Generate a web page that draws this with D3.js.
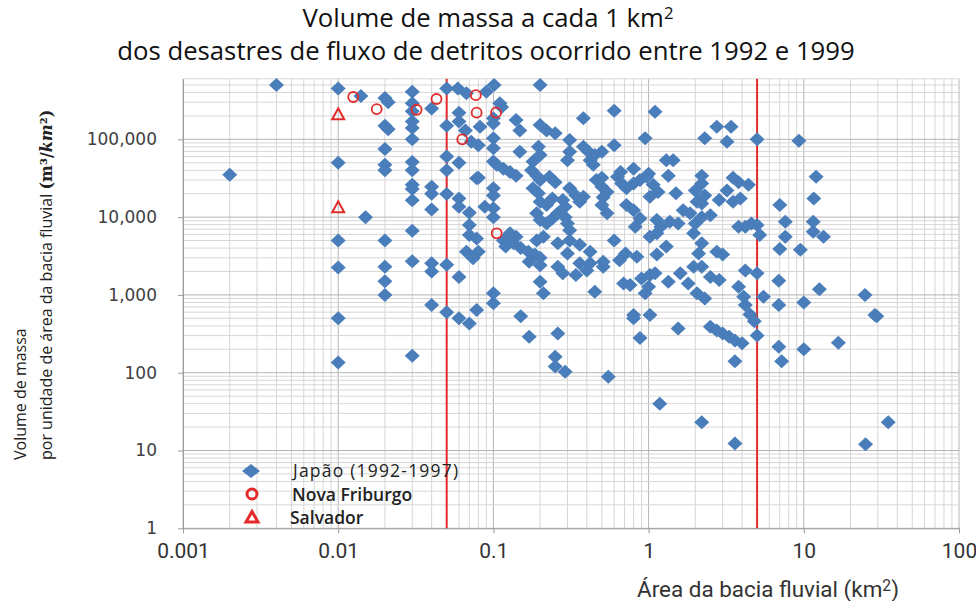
<!DOCTYPE html>
<html lang="pt">
<head>
<meta charset="utf-8">
<script src="https://cdn.jsdelivr.net/npm/d3@7"></script>
<style>
  body { margin: 0; background: #fff; }
  svg { display: block; }
</style>
</head>
<body>
<svg id="chart" width="976" height="601"></svg>
<script>
// --- data ---
const japaoArea = [0.004,0.002,0.01,0.01,0.01,0.01,0.01,0.01,0.014,0.015,0.02,0.021,0.02,0.021,0.02,0.02,0.02,0.02,0.02,0.02,0.02,
  0.03,0.03,0.03,0.03,0.03,0.03,0.03,0.03,0.03,0.03,0.03,0.03,0.03,0.03,0.04,0.04,0.04,0.04,0.04,0.04,0.04,
  0.05,0.05,0.05,0.05,0.05,0.05,0.05,0.059,0.067,0.06,0.06,0.066,0.072,0.06,0.078,0.06,0.06,0.07,0.07,0.07,0.067,0.074,0.06,0.06,0.07,0.078,
  0.101,0.09,0.2,0.11,0.14,0.148,0.082,0.1,0.08,0.1,0.1,0.148,0.2,0.22,0.25,0.195,0.2,0.38,0.6,1.1,0.31,0.31,0.3,0.38,0.41,0.45,0.5,0.6,0.95,
  0.42,0.44,0.8,1.3,1.44,2.3,2.75,3.4,3.2,5.0,0.08,0.1,0.105,0.116,0.128,0.14,0.18,0.176,0.19,0.2,0.23,0.25,0.18,0.195,0.2,0.22,0.24,
  0.19,0.2,0.22,0.24,0.26,0.29,0.31,0.31,0.34,0.38,0.36,0.46,0.5,0.5,0.54,0.63,0.67,0.72,0.8,0.88,0.97,1.07,1.15,1.02,1.34,1.5,
  2.2,2.2,2.0,2.3,2.05,3.5,3.8,4.4,3.2,3.5,3.9,0.29,0.5,0.54,0.72,0.8,0.88,0.82,1.13,1.2,1.37,1.55,1.13,1.67,1.85,2.2,2.0,2.5,1.95,2.2,
  2.75,3.0,3.8,4.2,5.0,5.2,4.6,0.21,0.26,0.31,0.36,0.3,0.42,0.36,0.51,0.128,0.14,0.135,0.15,0.168,0.185,0.2,0.6,0.71,0.84,1.02,1.3,1.13,
  0.088,0.1,0.1,0.1,0.1,0.116,0.078,0.08,
  0.17,0.2,0.26,0.28,0.34,0.4,0.42,0.51,0.2,0.21,0.45,0.69,0.76,0.9,1.02,1.1,1.0,0.95,1.34,1.6,1.8,1.95,2.2,2.05,2.3,2.5,2.85,3.8,4.2,5.0,
  4.1,4.2,5.5,4.5,4.8,0.8,0.8,1.02,0.88,1.55,2.5,2.75,3.0,3.3,3.6,4.0,3.6,5.0,0.1,0.1,0.15,0.17,0.26,0.25,0.25,0.29,0.55,1.18,2.2,3.6,
  6.9,6.9,10,12.6,24.8,28.7,29.5,6.9,7.2,10,16.7,35,25,9.3,12,11.6,7,7.6,11.5,11.5,13.4,7.6,7,9.5,
  0.113,0.1,0.66,0.51,0.65,2.85,0.12,0.3,0.28,1.0,2.2,2.1,0.19];
const japaoVol = [500000,35000,450000,50000,5000,2250,500,135,360000,10000,340000,300000,150000,135000,75000,47000,40000,5000,2300,1500,1000,
  410000,290000,230000,170000,140000,100000,51000,40000,26000,23000,16500,6700,2700,165,250000,24500,20000,12500,2550,2000,740,
  450000,150000,60000,40000,19800,2450,600,450000,390000,220000,170000,130000,93000,50000,31500,17400,13600,11400,7900,5900,3600,2950,1700,500,430,640,
  500000,410000,500000,290000,177000,130000,145000,160000,84000,103000,77000,69000,153000,130000,120000,80000,63000,186000,233000,226000,98000,69000,54000,80000,69000,63000,69000,84000,103000,
  54000,47000,42000,54000,54000,103000,145000,145000,93000,100000,32000,52000,47000,42000,38000,34000,52000,40000,34000,30000,33000,28000,23500,20300,15800,14300,17400,
  11200,9200,8300,9600,11200,10000,6800,23500,19000,18300,15800,30000,32000,24600,21000,33000,27000,23500,27000,30000,33000,26000,21000,18300,34000,20300,
  34000,27000,22000,19000,15800,32000,28000,26000,22000,15800,17400,13600,14300,11200,14300,12300,9600,7500,9200,7500,8700,8300,6200,12300,11200,10000,8300,10600,6200,4600,
  3600,3300,7500,7500,7900,5900,8300,5600,4600,5000,4400,3400,3600,2550,2670,6200,5600,4600,4000,3600,3300,3000,5000,3400,3100,5600,4200,3300,
  13600,13000,10000,23500,19000,5000,5300,3600,
  2670,2400,2300,1900,1800,2060,2550,2300,1480,1050,1100,1400,1340,1630,1800,1900,1270,1050,1480,1900,1400,2300,2300,1050,900,1700,1550,1270,2060,1900,
  950,740,950,560,460,550,500,550,280,370,390,350,320,290,260,240,140,300,1050,780,530,290,320,160,120,103,89,40,23,12.3,
  1520,740,800,1180,1000,550,530,215,140,200,243,23,12,96000,33000,17400,14300,8700,8700,6500,5600,5600,3900,3800,
  260000,186000,38000,18000,2800,16600,4200,8300,16600,36000,15000,3400,5000];

const friburgoArea = [0.0125, 0.0177, 0.032, 0.043, 0.077, 0.078, 0.104, 0.063, 0.105];
const friburgoVol = [350000, 245000, 240000, 330000, 370000, 220000, 220000, 100000, 6200];

const salvadorArea = [0.01, 0.01];
const salvadorVol = [210000, 13400];

const limitLines = [0.05, 5];
const xTicks = [0.001, 0.01, 0.1, 1, 10, 100];
const yTicks = [1, 10, 100, 1000, 10000, 100000];
const xTickLabels = ["0.001", "0.01", "0.1", "1", "10", "100"];

const blue = "#4a7ebb", red = "#e32b2b";

const svg = d3.select("#chart");
svg.append("rect").attr("width", 976).attr("height", 601).attr("fill", "#fff");

const x = d3.scaleLog().domain([0.001, 100]).range([183, 959]);
const y = d3.scaleLog().domain([1, 600000]).range([528.3, 78.8]);

function fitText(t, w) {
  const fs = parseFloat(t.style("font-size"));
  const len = t.node().getComputedTextLength();
  t.style("font-size", (fs * w / len) + "px");
}

// grid
const grid = svg.append("g");
const xMajor = new Set(xTicks.map(String));
grid.selectAll(".vx").data(x.ticks()).enter().append("line")
  .attr("x1", d => x(d)).attr("x2", d => x(d))
  .attr("y1", y(600000)).attr("y2", y(1))
  .attr("stroke", d => xMajor.has(String(d)) ? "#b4b4b4" : "#d6d6d6")
  .attr("stroke-width", 1);
const yMajor = new Set(yTicks.map(String));
grid.selectAll(".hy").data(y.ticks().filter(d => d <= 600000)).enter().append("line")
  .attr("x1", x(0.001)).attr("x2", x(100))
  .attr("y1", d => y(d)).attr("y2", d => y(d))
  .attr("stroke", d => yMajor.has(String(d)) ? "#b4b4b4" : "#d6d6d6")
  .attr("stroke-width", 1);

// axes
const xAxis = d3.axisBottom(x).tickValues(xTicks).tickFormat((d, i) => xTickLabels[i]).tickSizeInner(5).tickSizeOuter(0).tickPadding(10);
const gx = svg.append("g").attr("transform", "translate(0," + y(1) + ")").call(xAxis);
gx.select(".domain").attr("stroke", "#9a9a9a");
gx.selectAll(".tick line").attr("stroke", "#9a9a9a");
gx.selectAll("text").attr("fill", "#333").style("font-family", "'Liberation Sans Narrow', 'Roboto', sans-serif").style("font-size", "21px");

const yAxis = d3.axisLeft(y).tickValues(yTicks).tickFormat(d3.format(",")).tickSizeInner(5).tickSizeOuter(0).tickPadding(21);
const gy = svg.append("g").attr("transform", "translate(" + x(0.001) + ",0)").call(yAxis);
gy.select(".domain").attr("stroke", "#9a9a9a");
gy.selectAll(".tick line").attr("stroke", "#9a9a9a");
gy.selectAll("text").attr("fill", "#404040").style("font-family", "'DejaVu Sans', sans-serif").style("font-size", "17px");

// red limit lines
svg.selectAll(".lim").data(limitLines).enter().append("line")
  .attr("x1", d => x(d)).attr("x2", d => x(d))
  .attr("y1", y(600000)).attr("y2", y(1))
  .attr("stroke", red).attr("stroke-width", 2);

// points
const diamond = "M0,-7L7.5,0L0,7L-7.5,0Z";
const triangle = "M0,-6L6,5L-6,5Z";

svg.append("g").selectAll("path").data(japaoArea.map((a, i) => [a, japaoVol[i]])).enter().append("path")
  .attr("d", diamond)
  .attr("transform", d => "translate(" + x(d[0]) + "," + y(d[1]) + ")")
  .attr("fill", blue);

svg.append("g").selectAll("circle").data(friburgoArea.map((a, i) => [a, friburgoVol[i]])).enter().append("circle")
  .attr("cx", d => x(d[0])).attr("cy", d => y(d[1])).attr("r", 5)
  .attr("fill", "none").attr("stroke", red).attr("stroke-width", 1.8);

svg.append("g").selectAll("path").data(salvadorArea.map((a, i) => [a, salvadorVol[i]])).enter().append("path")
  .attr("d", triangle)
  .attr("transform", d => "translate(" + x(d[0]) + "," + y(d[1]) + ")")
  .attr("fill", "none").attr("stroke", red).attr("stroke-width", 2);

// legend
const leg = svg.append("g").style("font-family", "'Open Sans', sans-serif").attr("fill", "#222");
leg.append("path").attr("d", "M0,-7L9,0L0,7L-9,0Z").attr("transform", "translate(251,471)").attr("fill", blue);
leg.append("circle").attr("cx", 252).attr("cy", 494).attr("r", 5).attr("fill", "none").attr("stroke", red).attr("stroke-width", 3);
leg.append("path").attr("d", "M0,-5.5L6,5L-6,5Z").attr("transform", "translate(252,517)").attr("fill", "none").attr("stroke", red).attr("stroke-width", 3);
leg.append("text").attr("x", 293).attr("y", 477).style("font-size", "17.5px").style("letter-spacing", "1.2px").text("Japão (1992-1997)");
leg.append("text").attr("x", 292).attr("y", 501).style("font-size", "17.5px").style("font-weight", 600).text("Nova Friburgo");
leg.append("text").attr("x", 290).attr("y", 524).style("font-size", "17.5px").style("font-weight", 600).text("Salvador");

// title
const tfont = "'Open Sans', sans-serif";
const t1 = svg.append("text").attr("x", 488).attr("y", 26.5).attr("text-anchor", "middle")
  .style("font-family", tfont).style("font-size", "22px").attr("fill", "#111");
t1.append("tspan").text("Volume de massa a cada 1 km");
t1.append("tspan").attr("dy", "-0.45em").style("font-size", "0.65em").text("2");
const t2 = svg.append("text").attr("x", 486).attr("y", 59.5).attr("text-anchor", "middle")
  .style("font-family", tfont).style("font-size", "22px").attr("fill", "#111")
  .text("dos desastres de fluxo de detritos ocorrido entre 1992 e 1999");
fitText(t2, 738);
t1.style("font-size", t2.style("font-size"));

// y title
const ya = svg.append("g").style("font-family", tfont).attr("fill", "#222");
ya.append("text").attr("transform", "translate(26,460) rotate(-90)").style("font-size", "16px").text("Volume de massa");
const yt2 = ya.append("text").attr("transform", "translate(52,460) rotate(-90)").style("font-size", "16px");
yt2.append("tspan").text("por unidade de área da bacia fluvial ");
yt2.append("tspan").style("font-family", "'DejaVu Serif', serif").style("font-weight", "bold").text("(m³/");
yt2.append("tspan").style("font-family", "'DejaVu Serif', serif").style("font-weight", "bold").style("font-style", "italic").text("km");
yt2.append("tspan").style("font-family", "'DejaVu Serif', serif").style("font-weight", "bold").text("²)");

// x title
const xt = svg.append("text").attr("x", 768).attr("y", 597).attr("text-anchor", "middle")
  .style("font-family", "'Liberation Sans Narrow', 'Roboto', sans-serif").style("font-size", "21px").attr("fill", "#333");
xt.append("tspan").text("Área da bacia fluvial (km");
xt.append("tspan").attr("dy", "-0.4em").style("font-size", "0.7em").text("2");
xt.append("tspan").attr("dy", "0.28em").text(")");
fitText(xt, 262);
</script>
</body>
</html>
